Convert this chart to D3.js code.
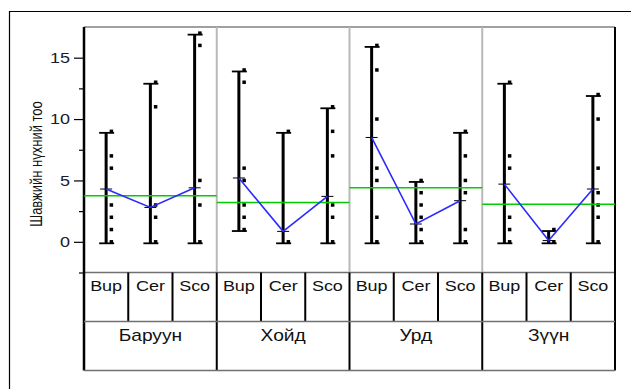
<!DOCTYPE html>
<html>
<head>
<meta charset="utf-8">
<script src="https://cdn.jsdelivr.net/npm/d3@7"></script>
<style>
  body { margin: 0; background: #fff; }
  svg { display: block; font-family: "Liberation Sans", Arial, sans-serif; }
</style>
</head>
<body>
<div id="chart"></div>
<script>
// regions (outer groups) and species (inner groups)
const regions = ["Баруун", "Хойд", "Урд", "Зүүн"];
const species = ["Bup", "Cer", "Sco"];

// observed hole counts, one list per region x species
const pointsBaruun = [[0, 1, 2, 3, 6, 7, 9], [0, 2, 3, 11, 13], [0, 3, 5, 16, 17]];
const pointsKhoid  = [[1, 2, 3, 5, 6, 13, 14], [0, 9], [0, 2, 3, 7, 9, 11]];
const pointsUrd    = [[0, 2, 5, 6, 10, 14, 16], [0, 1, 2, 3, 4, 5], [0, 1, 4, 5, 7, 9]];
const pointsZuun   = [[0, 1, 2, 6, 7, 13], [0, 1], [0, 2, 3, 4, 6, 10, 12]];
const points = [pointsBaruun, pointsKhoid, pointsUrd, pointsZuun];

// group means (blue line) and region means (green line)
const means = [[4.3, 2.8, 4.4], [5.2, 0.85, 3.7], [8.5, 1.45, 3.35], [4.7, 0.1, 4.3]];
const regionMeans = [3.75, 3.2, 4.4, 3.05];

const majorTicks = [0, 5, 10, 15];
const minorTicks = [-2.5, 2.5, 7.5, 12.5];

const W = 631, H = 389;
const pLeft = 84, pRight = 615, pTop = 27, pBottom = 272.5;
const row1 = 321.5, row2 = 370.5;
const stretch = 1.2; // text in the picture is widened

const svg = d3.select("#chart").append("svg")
    .attr("width", W)
    .attr("height", H);

// outer frame (top and left edges only)
svg.append("path")
    .attr("d", `M9.5,${H} V11.5 H${W}`)
    .attr("fill", "none")
    .attr("stroke", "#000")
    .attr("stroke-width", 1.2);

const x0 = d3.scaleBand().domain(regions).range([pLeft, pRight]);
const x1 = d3.scaleBand().domain(species).range([0, x0.bandwidth()]);
const y = d3.scaleLinear().domain([-2.5, 17.5]).range([pBottom, pTop]);

// plot frame
svg.append("line")
    .attr("x1", pLeft).attr("x2", pRight).attr("y1", pTop).attr("y2", pTop)
    .attr("stroke", "#808080").attr("stroke-width", 1.5);
svg.append("line")
    .attr("x1", pLeft).attr("x2", pRight).attr("y1", pBottom).attr("y2", pBottom)
    .attr("stroke", "#707070").attr("stroke-width", 1.5);

// grey panel separators
svg.selectAll(".sep")
    .data(regions.slice(1))
    .enter().append("line")
    .attr("class", "sep")
    .attr("x1", d => x0(d)).attr("x2", d => x0(d))
    .attr("y1", pTop).attr("y2", pBottom)
    .attr("stroke", "#b8b8b8").attr("stroke-width", 2);

// y axis
const axisMajor = d3.axisLeft(y).tickValues(majorTicks).tickSize(10).tickPadding(4);
const axisMinor = d3.axisLeft(y).tickValues(minorTicks).tickSize(5).tickFormat("");

const gMinor = svg.append("g").attr("transform", `translate(${pLeft},0)`).call(axisMinor);
gMinor.select(".domain").remove();
gMinor.selectAll("line").attr("stroke-width", 1.2);

const gAxis = svg.append("g").attr("transform", `translate(${pLeft},0)`).call(axisMajor);
gAxis.select(".domain").remove();
gAxis.selectAll("line").attr("stroke-width", 1.2);
gAxis.selectAll("text")
    .attr("font-size", 15)
    .attr("fill", "#1a1a2e")
    .attr("font-family", "Liberation Sans, Arial, sans-serif")
    .attr("x", -14 / stretch)
    .attr("transform", `scale(${stretch},1)`);

// axis line, runs down through the table
svg.append("line")
    .attr("x1", pLeft).attr("x2", pLeft).attr("y1", pTop).attr("y2", row2)
    .attr("stroke", "#000").attr("stroke-width", 2.5);
// right border
svg.append("line")
    .attr("x1", pRight).attr("x2", pRight).attr("y1", pTop).attr("y2", row2)
    .attr("stroke", "#000").attr("stroke-width", 2);

// axis title
svg.append("text")
    .attr("transform", `translate(41.5,164) scale(${stretch},1) rotate(-90)`)
    .attr("text-anchor", "middle")
    .attr("font-size", 13)
    .attr("fill", "#111")
    .text("Шавжийн нүхний тоо");

// panels
regions.forEach((r, i) => {
  const g = svg.append("g").attr("transform", `translate(${x0(r)},0)`);
  const cx = s => x1(s) + x1.bandwidth() / 2;

  species.forEach((s, j) => {
    const vals = points[i][j];
    const lo = d3.min(vals), hi = d3.max(vals);
    const bx = cx(s);
    // range bar with caps
    g.append("line")
        .attr("x1", bx).attr("x2", bx)
        .attr("y1", y(hi) + 1.5).attr("y2", y(lo) + 1.5)
        .attr("stroke", "#000").attr("stroke-width", 3);
    [lo, hi].forEach(v => {
      g.append("line")
          .attr("x1", bx - 7).attr("x2", bx + 8)
          .attr("y1", y(v) + 1.5).attr("y2", y(v) + 1.5)
          .attr("stroke", "#000").attr("stroke-width", 1.8);
    });
    // mean tick
    g.append("line")
        .attr("x1", bx - 6).attr("x2", bx + 6)
        .attr("y1", y(means[i][j])).attr("y2", y(means[i][j]))
        .attr("stroke", "#000").attr("stroke-width", 1);
    // data points
    g.selectAll(".pt" + j)
        .data(vals)
        .enter().append("rect")
        .attr("x", bx + 3.5)
        .attr("y", d => y(d) - 1.75)
        .attr("width", 3.5).attr("height", 3.5)
        .attr("fill", "#000");
  });

  // region mean (green)
  g.append("line")
      .attr("x1", 0).attr("x2", x0.bandwidth())
      .attr("y1", y(regionMeans[i])).attr("y2", y(regionMeans[i]))
      .attr("stroke", "#00cc00").attr("stroke-width", 1.5);

  // group means (blue)
  const line = d3.line()
      .x((d, j) => cx(species[j]))
      .y(d => y(d));
  g.append("path")
      .datum(means[i])
      .attr("d", line)
      .attr("fill", "none")
      .attr("stroke", "#2a2aff")
      .attr("stroke-width", 1.6);

  // table: species row
  species.forEach((s, j) => {
    g.append("text")
        .attr("transform", `translate(${cx(s)},${291}) scale(${stretch},1)`)
        .attr("text-anchor", "middle")
        .attr("font-size", 15)
        .attr("fill", "#111")
        .text(s);
    if (j > 0) {
      g.append("line")
          .attr("x1", x1(s)).attr("x2", x1(s))
          .attr("y1", pBottom).attr("y2", row1)
          .attr("stroke", "#000").attr("stroke-width", 2);
    }
  });

  // table: region row
  g.append("text")
      .attr("transform", `translate(${x0.bandwidth() / 2},${341}) scale(${stretch},1)`)
      .attr("text-anchor", "middle")
      .attr("font-size", 16)
      .attr("fill", "#111")
      .text(r);

  if (i > 0) {
    g.append("line")
        .attr("x1", 0).attr("x2", 0)
        .attr("y1", pBottom).attr("y2", row2)
        .attr("stroke", "#000").attr("stroke-width", 2);
  }
});

// table horizontal rules
[row1, row2].forEach(yy => {
  svg.append("line")
      .attr("x1", pLeft).attr("x2", pRight).attr("y1", yy).attr("y2", yy)
      .attr("stroke", "#707070").attr("stroke-width", 1.5);
});
</script>
</body>
</html>
